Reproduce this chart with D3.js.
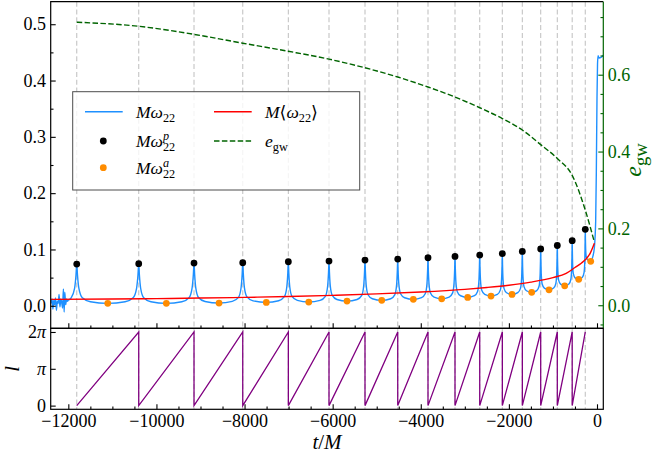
<!DOCTYPE html>
<html><head><meta charset="utf-8">
<script src="https://cdn.jsdelivr.net/npm/d3@7"></script>
<style>body{margin:0;background:#fff} svg{display:block} text{font-family:'Liberation Serif','DejaVu Serif',serif}</style>
</head><body>
<svg id="c" width="652" height="458"></svg>
<script>
// ---------------- data ----------------
const peakT = [-11809,-10402,-9147,-8041,-7006,-6083,-5266,-4523,-3836,-3223,-2662,-2149,-1695,-1278,-901,-563,-266];
const peakW = [0.0741,0.0747,0.0758,0.0764,0.0782,0.0794,0.0812,0.0830,0.0853,0.0877,0.0900,0.0927,0.0966,0.1010,0.1070,0.1156,0.1357];
const apoT = [-11105,-9775,-8579,-7506,-6543,-5674,-4886,-4169,-3525,-2935,-2406,-1929,-1482,-1089,-733,-415,-143];
const apoW = [0.0043,0.0043,0.0048,0.0060,0.0066,0.0083,0.0096,0.0114,0.0124,0.0149,0.0172,0.0202,0.0238,0.0284,0.0355,0.0469,0.079];
const omega22 = [
[-12390,0.004],[-12370,0.012],[-12350,-0.006],[-12330,0.010],[-12310,0.002],[-12290,0.014],[-12270,-0.008],[-12250,0.008],[-12230,0.004],[-12210,0.020],[-12190,-0.002],[-12170,0.012],[-12150,0.006],[-12130,-0.004],[-12112,0.030],[-12095,-0.011],[-12080,0.024],[-12060,0.002],[-12040,0.012],[-12020,0.008],[-12000,0.010],[-11950,0.0125],
[-11936,0.0141],[-11858,0.0308],[-11826,0.0546],[-11809,0.0741],[-11792,0.0546],[-11760,0.0308],[-11682,0.0141],[-11499,0.0071],[-11105,0.0043],
[-10711,0.0071],[-10529,0.0142],[-10451,0.0311],[-10419,0.0550],[-10402,0.0747],[-10387,0.0550],[-10358,0.0311],[-10289,0.0142],[-10126,0.0071],[-9775,0.0043],
[-9423,0.0072],[-9260,0.0143],[-9191,0.0315],[-9162,0.0558],[-9147,0.0758],[-9133,0.0559],[-9107,0.0318],[-9045,0.0147],[-8897,0.0076],[-8579,0.0048],
[-8278,0.0077],[-8138,0.0148],[-8079,0.0320],[-8054,0.0564],[-8041,0.0764],[-8028,0.0567],[-8004,0.0328],[-7945,0.0159],[-7806,0.0088],[-7506,0.0060],
[-7226,0.0089],[-7096,0.0161],[-7041,0.0334],[-7018,0.0580],[-7006,0.0782],[-6995,0.0582],[-6974,0.0338],[-6923,0.0166],[-6802,0.0095],[-6543,0.0066],
[-6285,0.0095],[-6166,0.0168],[-6115,0.0343],[-6094,0.0590],[-6083,0.0794],[-6073,0.0595],[-6054,0.0353],[-6009,0.0183],[-5903,0.0111],[-5674,0.0083],
[-5446,0.0112],[-5339,0.0185],[-5295,0.0360],[-5276,0.0608],[-5266,0.0812],[-5257,0.0612],[-5239,0.0368],[-5198,0.0196],[-5099,0.0125],[-4886,0.0096],
[-4683,0.0125],[-4588,0.0199],[-4548,0.0375],[-4532,0.0624],[-4523,0.0830],[-4515,0.0630],[-4498,0.0386],[-4459,0.0214],[-4367,0.0143],[-4169,0.0114],
[-3983,0.0144],[-3896,0.0217],[-3859,0.0395],[-3844,0.0646],[-3836,0.0853],[-3829,0.0649],[-3814,0.0401],[-3780,0.0226],[-3699,0.0153],[-3525,0.0124],
[-3356,0.0154],[-3277,0.0229],[-3244,0.0410],[-3230,0.0666],[-3223,0.0877],[-3216,0.0673],[-3203,0.0426],[-3171,0.0251],[-3096,0.0178],[-2935,0.0149],
[-2782,0.0179],[-2711,0.0254],[-2681,0.0434],[-2669,0.0690],[-2662,0.0900],[-2656,0.0696],[-2644,0.0449],[-2616,0.0274],[-2549,0.0201],[-2406,0.0172],
[-2262,0.0202],[-2195,0.0278],[-2167,0.0459],[-2155,0.0716],[-2149,0.0927],[-2144,0.0724],[-2134,0.0478],[-2109,0.0304],[-2052,0.0231],[-1929,0.0202],
[-1798,0.0233],[-1737,0.0309],[-1711,0.0492],[-1701,0.0752],[-1695,0.0966],[-1690,0.0762],[-1680,0.0515],[-1657,0.0340],[-1601,0.0267],[-1482,0.0238],
[-1368,0.0269],[-1315,0.0346],[-1292,0.0531],[-1283,0.0794],[-1278,0.1010],[-1273,0.0807],[-1265,0.0560],[-1244,0.0386],[-1195,0.0313],[-1089,0.0284],
[-984,0.0315],[-935,0.0394],[-914,0.0583],[-906,0.0850],[-901,0.1070],[-897,0.0870],[-889,0.0627],[-871,0.0455],[-827,0.0384],[-733,0.0355],
[-638,0.0387],[-594,0.0467],[-575,0.0659],[-567,0.0932],[-563,0.1156],[-559,0.0964],[-553,0.0730],[-536,0.0565],[-498,0.0496],[-415,0.0469],
[-332,0.0505],[-293,0.0593],[-276,0.0806],[-270,0.1108],[-266,0.1357],[-263,0.1198],[-257,0.1005],[-244,0.0869],[-212,0.0813],[-143,0.079],
[-100,0.086],[-60,0.103],[-30,0.15],[-15,0.24],[0,0.37],[12,0.43],[25,0.444],[45,0.44],[90,0.441],[143,0.445]
];
const meanT = [-12390,-11000,-10000,-9000,-8000,-7000,-6000,-5000,-4000,-3000,-2500,-2000,-1500,-1000,-700,-500,-350,-250,-150,-60];
const meanW = [0.0113,0.0120,0.0127,0.0137,0.0149,0.0164,0.0185,0.0211,0.0245,0.0292,0.0325,0.0365,0.0420,0.0500,0.0575,0.0680,0.0760,0.0830,0.0940,0.1110];
const egwT = [-11809,-10402,-9147,-8041,-7006,-6083,-5266,-4523,-3836,-3223,-2662,-2149,-1695,-1278,-901,-563,-266,-61];
const egwV = [0.7366,0.726,0.705,0.682,0.661,0.6405,0.618,0.594,0.568,0.542,0.514,0.486,0.456,0.418,0.382,0.338,0.2475,0.165];
const xTicks = [-12000,-10000,-8000,-6000,-4000,-2000,0];
const yTicks = [0.0,0.1,0.2,0.3,0.4,0.5];
const eTicks = [0.0,0.2,0.4,0.6];
const lTicks = [0, Math.PI, 2*Math.PI];
const lTickLabels = ["0","π","2π"];

// ---------------- layout ----------------
const L = 50.7, R = 603.3, T1 = 1.7, B1 = 328.3, B2 = 409.3;
const FONT = "'Liberation Serif','DejaVu Serif',serif";
const svg = d3.select("#c");
const x = d3.scaleLinear().domain([-12400, 143]).range([L, R]);
const y = d3.scaleLinear().domain([-0.04, 0.54]).range([B1, T1]);
const ye = d3.scaleLinear().domain([-0.06, 0.79]).range([B1, T1]);
const yl = d3.scaleLinear().domain([-0.1*Math.PI, 2.1*Math.PI]).range([B2, B1]);

const defs = svg.append("defs");
defs.append("clipPath").attr("id","c1").append("rect").attr("x",L).attr("y",T1).attr("width",R-L).attr("height",B1-T1);
defs.append("clipPath").attr("id","c2").append("rect").attr("x",L).attr("y",B1).attr("width",R-L).attr("height",B2-B1);

// vertical dashed lines at pericenters
svg.append("g").selectAll("line").data(peakT).join("line")
  .attr("x1",d=>x(d)).attr("x2",d=>x(d)).attr("y1",T1).attr("y2",B2)
  .attr("stroke","#c4c4c4").attr("stroke-width",1.1).attr("stroke-dasharray","5,2.8");

// top panel
const g1 = svg.append("g").attr("clip-path","url(#c1)");
g1.append("path").datum(omega22)
  .attr("d", d3.line().x(d=>x(d[0])).y(d=>y(d[1])).curve(d3.curveMonotoneX))
  .attr("fill","none").attr("stroke","#1e90ff").attr("stroke-width",1.4);
g1.append("path").datum(d3.zip(meanT, meanW))
  .attr("d", d3.line().x(d=>x(d[0])).y(d=>y(d[1])).curve(d3.curveMonotoneX))
  .attr("fill","none").attr("stroke","#ff0000").attr("stroke-width",1.4);
g1.append("g").selectAll("circle").data(d3.zip(peakT,peakW)).join("circle")
  .attr("cx",d=>x(d[0])).attr("cy",d=>y(d[1])).attr("r",3.4).attr("fill","#000");
g1.append("g").selectAll("circle").data(d3.zip(apoT,apoW)).join("circle")
  .attr("cx",d=>x(d[0])).attr("cy",d=>y(d[1])).attr("r",3.4).attr("fill","#ff8c00");
g1.append("path").datum(d3.zip(egwT, egwV))
  .attr("d", d3.line().x(d=>x(d[0])).y(d=>ye(d[1])).curve(d3.curveMonotoneX))
  .attr("fill","none").attr("stroke","#006400").attr("stroke-width",1.4).attr("stroke-dasharray","5.5,2.4");

// bottom panel: mean anomaly sawtooth
const lData = [];
for (let i = 0; i < peakT.length - 1; i++) {
  lData.push([peakT[i], 0]);
  lData.push([peakT[i+1], 2*Math.PI]);
}
svg.append("g").attr("clip-path","url(#c2)").append("path").datum(lData)
  .attr("d", d3.line().x(d=>x(d[0])).y(d=>yl(d[1])))
  .attr("fill","none").attr("stroke","#800080").attr("stroke-width",1.3);

// ---------------- axes ----------------
function styleAxis(g, color, fs) {
  g.attr("font-family", FONT).attr("font-size", fs);
  g.select(".domain").remove();
  g.selectAll("line").attr("stroke", color).attr("stroke-width",1.1);
  g.selectAll("text").attr("fill", color).attr("font-family", FONT).style("font-family", FONT).style("font-size", fs+"px");
}
const minorX = d3.range(-12000, 1, 500).filter(v => v % 2000 !== 0);
const fmtX = d => (d < 0 ? "\u2212" + Math.abs(d) : String(d));

svg.append("g").attr("transform",`translate(0,${B1})`)
  .call(d3.axisBottom(x).tickValues(xTicks).tickSize(-5).tickFormat("")).call(g=>styleAxis(g,"#000",18));
svg.append("g").attr("transform",`translate(0,${B1})`)
  .call(d3.axisBottom(x).tickValues(minorX).tickSize(-2.8).tickFormat("")).call(g=>styleAxis(g,"#000",18));
svg.append("g").attr("transform",`translate(0,${B2})`)
  .call(d3.axisBottom(x).tickValues(xTicks).tickSize(-5).tickPadding(5).tickFormat(fmtX)).call(g=>styleAxis(g,"#000",18));
svg.append("g").attr("transform",`translate(0,${B2})`)
  .call(d3.axisBottom(x).tickValues(minorX).tickSize(-2.8).tickFormat("")).call(g=>styleAxis(g,"#000",18));
svg.append("g").attr("transform",`translate(${L},0)`)
  .call(d3.axisLeft(y).tickValues(yTicks).tickSize(-5).tickPadding(4.7).tickFormat(d3.format(".1f"))).call(g=>styleAxis(g,"#000",18));
svg.append("g").attr("transform",`translate(${L},0)`)
  .call(d3.axisLeft(y).tickValues([0.05,0.15,0.25,0.35,0.45]).tickSize(-2.8).tickFormat("")).call(g=>styleAxis(g,"#000",18));
svg.append("g").attr("transform",`translate(${R},0)`)
  .call(d3.axisRight(ye).tickValues(eTicks).tickSize(-5).tickPadding(4.4).tickFormat(d3.format(".1f"))).call(g=>styleAxis(g,"#006400",18));
svg.append("g").attr("transform",`translate(${R},0)`)
  .call(d3.axisRight(ye).tickValues([-0.05,0.05,0.1,0.15,0.25,0.3,0.35,0.45,0.5,0.55,0.65,0.7,0.75]).tickSize(-2.8).tickFormat("")).call(g=>styleAxis(g,"#006400",18));
const la = svg.append("g").attr("transform",`translate(${L},0)`)
  .call(d3.axisLeft(yl).tickValues(lTicks).tickSize(-5).tickPadding(4.7).tickFormat((d,i)=>lTickLabels[i])).call(g=>styleAxis(g,"#000",18));
la.selectAll("text").each(function(d,i){
  const t = d3.select(this); const s = lTickLabels[i]; t.text(null);
  if (s.includes("π")) { if (s.length>1) t.append("tspan").text(s[0]); t.append("tspan").attr("font-style","italic").text("π"); }
  else t.text(s);
});

// frames
svg.append("path").attr("d",`M${R},${T1}H${L}V${B1}H${R}`).attr("fill","none").attr("stroke","#000").attr("stroke-width",1.2);
svg.append("line").attr("x1",R).attr("x2",R).attr("y1",T1).attr("y2",B1).attr("stroke","#006400").attr("stroke-width",1.2);
svg.append("rect").attr("x",L).attr("y",B1).attr("width",R-L).attr("height",B2-B1).attr("fill","none").attr("stroke","#000").attr("stroke-width",1.2);

// ---------------- math text helper ----------------
function mathText(parent, x0, y0, parts, fs, color, anchor, subScale) {
  const ss = subScale || 0.7;
  const g = parent.append("g");
  let cx = 0;
  const mk = (s, dy, size, it) => {
    const t = g.append("text").attr("x", cx).attr("y", dy).text(s)
      .style("font-family", FONT).style("font-size", size + "px").attr("fill", color)
      .attr("font-style", it ? "italic" : "normal");
    return t.node().getComputedTextLength();
  };
  parts.forEach(p => {
    if (p.sub !== undefined && p.sup !== undefined) {
      const w1 = mk(p.sup, -0.38*fs, ss*fs, p.supIt);
      const w2 = mk(p.sub, 0.26*fs, ss*fs, false);
      cx += Math.max(w1, w2);
    } else if (p.sub !== undefined) {
      cx += mk(p.sub, 0.26*fs, ss*fs, p.subIt);
    } else {
      cx += mk(p.s, 0, fs, p.it);
    }
  });
  const off = anchor === "middle" ? -cx/2 : 0;
  g.attr("transform", `translate(${x0 + off},${y0})`);
  return g;
}

// legend
svg.append("rect").attr("x",72.7).attr("y",91.7).attr("width",287).attr("height",98.3)
  .attr("fill","rgba(255,255,255,0.8)").attr("stroke","#4d4d4d").attr("stroke-width",1);
const LF = 17.5;
svg.append("line").attr("x1",85).attr("x2",122.7).attr("y1",111.7).attr("y2",111.7).attr("stroke","#1e90ff").attr("stroke-width",1.4);
mathText(svg, 136, 117.5, [{s:"M",it:true},{s:"ω",it:true},{sub:"22"}], LF, "#000");
svg.append("circle").attr("cx",103.3).attr("cy",141).attr("r",3.4).attr("fill","#000");
mathText(svg, 136, 146.8, [{s:"M",it:true},{s:"ω",it:true},{sup:"p",supIt:true,sub:"22"}], LF, "#000");
svg.append("circle").attr("cx",103.3).attr("cy",167.7).attr("r",3.4).attr("fill","#ff8c00");
mathText(svg, 136, 173.5, [{s:"M",it:true},{s:"ω",it:true},{sup:"a",supIt:true,sub:"22"}], LF, "#000");
svg.append("line").attr("x1",214).attr("x2",251.7).attr("y1",111.7).attr("y2",111.7).attr("stroke","#ff0000").attr("stroke-width",1.4);
mathText(svg, 265, 117.5, [{s:"M",it:true},{s:"⟨"},{s:"ω",it:true},{sub:"22"},{s:"⟩"}], LF, "#000");
svg.append("line").attr("x1",214).attr("x2",251.7).attr("y1",141).attr("y2",141).attr("stroke","#006400").attr("stroke-width",1.4).attr("stroke-dasharray","5.5,2.4");
mathText(svg, 265, 146.8, [{s:"e",it:true},{sub:"gw"}], LF, "#000");

// axis labels
mathText(svg, 327, 449, [{s:"t",it:true},{s:"/"},{s:"M",it:true}], 21, "#000", "middle");
svg.append("text").attr("transform","translate(19,368.8) rotate(-90)").attr("text-anchor","middle")
  .style("font-family",FONT).style("font-size","21px").attr("font-style","italic").text("l");
const eg = svg.append("g").attr("transform","translate(641,160) rotate(-90)");
mathText(eg, 0, 0, [{s:"e",it:true},{sub:"gw"}], 24, "#006400", "middle", 0.78);
</script>
</body></html>
